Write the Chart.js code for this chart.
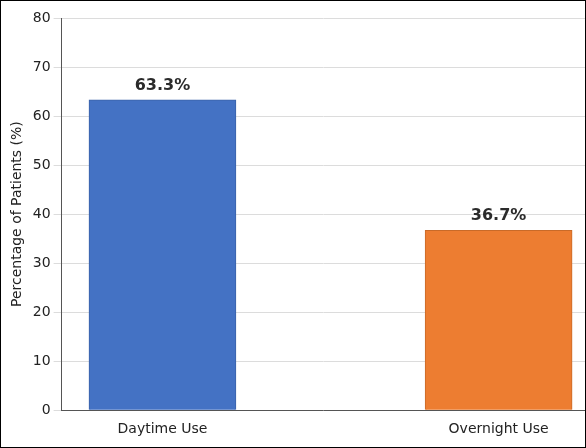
<!DOCTYPE html>
<html><head><script src="https://cdn.jsdelivr.net/npm/chart.js@4"></script>
<style>html,body{margin:0;padding:0;background:#fff}#w{position:absolute;left:0;top:0;width:584px;height:446px;border:1px solid #000}</style></head>
<body><div id="w"><canvas id="c" width="584" height="446"></canvas></div>
<script>
const categories=['Daytime Use','Overnight Use'];
const values=[63.3,36.7];
const colors=['#4472C4','#ED7D31'];
const borders=['#3a62a8','#c96a28'];
const yTicks=[0,10,20,30,40,50,60,70,80];
const labelPlugin={id:'lbl',afterDatasetsDraw(ch){const ctx=ch.ctx;const m=ch.getDatasetMeta(0);ctx.save();ctx.font='bold 16px "DejaVu Sans"';ctx.fillStyle='#2b2b2b';ctx.textAlign='center';ctx.textBaseline='bottom';m.data.forEach((b,i)=>ctx.fillText(values[i].toFixed(1)+'%',b.x,b.y-6));ctx.restore();}};
new Chart(document.getElementById('c'),{type:'bar',
data:{datasets:[{data:values.map((v,i)=>({x:i,y:v})),backgroundColor:colors,borderColor:borders,borderWidth:1,barThickness:147}]},
options:{responsive:false,animation:false,layout:{padding:{top:17,right:0,left:4,bottom:6}},
plugins:{legend:{display:false},tooltip:{enabled:false}},
scales:{x:{type:'linear',offset:false,min:-0.3,max:1.257,grid:{display:false},border:{color:'#555'},
afterBuildTicks:s=>{s.ticks=[{value:0},{value:1}];},
ticks:{color:'#222',font:{size:14,family:'DejaVu Sans'},callback:v=>categories[v]}},
y:{min:0,max:80,afterBuildTicks:s=>{s.ticks=yTicks.map(v=>({value:v}));},border:{color:'#555'},grid:{color:'#dcdcdc'},
ticks:{color:'#222',font:{size:14,family:'DejaVu Sans'}},
title:{display:true,text:'Percentage of Patients (%)',color:'#222',font:{size:14,family:'DejaVu Sans'}}}}},
plugins:[labelPlugin]});
</script></body></html>
